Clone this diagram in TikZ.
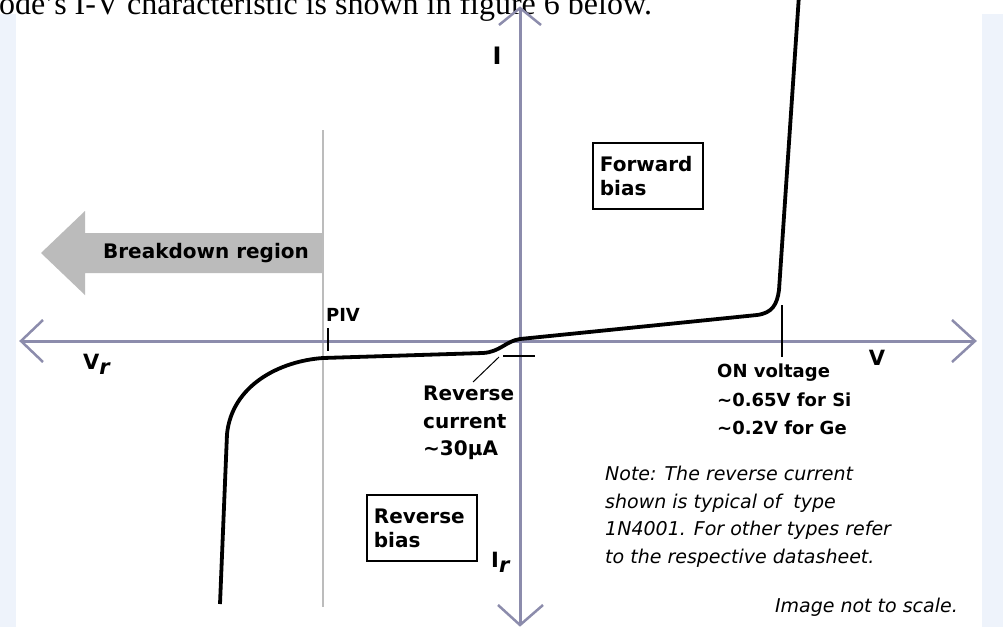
\documentclass[tikz,border=0pt]{standalone}
\usepackage{fontspec}
\setmainfont{Liberation Serif}
\setsansfont{DejaVu Sans}
\usetikzlibrary{calc}
\definecolor{axcol}{RGB}{140,140,172}
\definecolor{pivcol}{RGB}{188,188,188}
\definecolor{arrfill}{RGB}{187,187,187}
\definecolor{stripcol}{RGB}{238,243,251}
\begin{document}
\begin{tikzpicture}[x=1pt,y=-1pt,
  axis/.style={draw=axcol, line width=3pt},
  axarm/.style={draw=axcol, line width=2.5pt},
  pivline/.style={draw=pivcol, line width=2.5pt},
  curve/.style={draw=black, line width=3.8pt, line join=round},
  tick/.style={draw=black, line width=1.6pt},
  leader/.style={draw=black, line width=1pt},
  lbl/.style={font=\sffamily\bfseries\fontsize{20}{27.5}\selectfont, inner sep=0pt, align=left},
  onlbl/.style={font=\sffamily\bfseries\fontsize{18}{28.5}\selectfont, inner sep=0pt, align=left},
  axlbl/.style={font=\sffamily\bfseries\fontsize{21}{24}\selectfont, inner sep=0pt},
  notelbl/.style={font=\sffamily\itshape\fontsize{19}{27.6}\selectfont, inner sep=0pt, align=left},
  biasbox/.style={draw=black, line width=1.8pt, font=\sffamily\bfseries\fontsize{20}{24}\selectfont,
    align=left, minimum width=110pt, minimum height=66pt, inner xsep=7pt, text width=96pt}
]
\useasboundingbox (0,0) rectangle (1003,627);
\fill[white] (0,0) rectangle (1003,627);
\fill[stripcol] (0,14) rectangle (16,627);
\fill[stripcol] (982,14) rectangle (1003,627);

% document text above the figure
\node[anchor=base west, inner sep=0pt, font=\fontsize{32}{32}\selectfont] (title) at (-1,14)
  {ode's I-V characteristic is shown in figure 6 below.};

% coordinates of axes
\coordinate (xl) at (21,341);
\coordinate (xr) at (975,341);
\coordinate (yt) at (520,8);
\coordinate (yb) at (520,625);

% breakdown arrow
\fill[arrfill] (323,233) -- (85,233) -- (85,211) -- (41,253) -- (85,295) -- (85,273) -- (323,273) -- cycle;
\node[lbl] (bd) at (206,253) {Breakdown region};

% PIV line
\coordinate (pivtop) at (323,130);
\coordinate (pivbot) at (323,607);
\draw[pivline] (pivtop) -- (pivbot);

% axes
\draw[axis] (xl) -- (xr);
\draw[axis] (yt) -- (yb);
\draw[axarm] ($(xr)+(-23,-21)$) -- (xr) -- ($(xr)+(-23,21)$);
\draw[axarm] ($(xl)+(22,-21)$) -- (xl) -- ($(xl)+(22,21)$);
\draw[axarm] ($(yt)+(-21,17)$) -- (yt) -- ($(yt)+(21,17)$);
\draw[axarm] ($(yb)+(-22,-20)$) -- (yb) -- ($(yb)+(23,-20)$);

% characteristic curve
\draw[curve] (220,604) -- (227,434) .. controls (232,385) and (280,361) .. (323,358)
  -- (483,353) .. controls (500,352) and (506,341) .. (520,339)
  -- (757,315) .. controls (772,313) and (777,305) .. (779,290) -- (799,-5);

% ticks
\coordinate (pivt1) at (328,328);
\coordinate (pivt2) at (328,351);
\draw[tick] (pivt1) -- (pivt2);
\coordinate (rct1) at (503,356);
\coordinate (rct2) at (535,356);
\draw[tick] (rct1) -- (rct2);
\coordinate (ont1) at (782,305);
\coordinate (ont2) at (782,357);
\draw[tick] (ont1) -- (ont2);

% axis labels
\node[axlbl, font=\sffamily\bfseries\fontsize{24}{26}\selectfont] (I) at (497,56) {I};
\node[axlbl] (V) at (877,358) {V};
\node[axlbl, anchor=west] (Vr) at (83,364) {V\raisebox{-5pt}{\itshape r}};
\node[axlbl, anchor=west] (Ir) at (491,562) {I\raisebox{-5pt}{\itshape r}};
\node[lbl, font=\sffamily\bfseries\fontsize{18}{20}\selectfont] (piv) at (343,315) {PIV};

% bias boxes
\node[biasbox, anchor=north west] (fwd) at (592,142) {Forward\\bias};
\node[biasbox, anchor=north west] (rev) at (366,494) {Reverse\\bias};

% reverse current label
\node[lbl, anchor=north west] (rc) at (423,386) {Reverse\\current\\\textasciitilde30µA};
\coordinate (rcpt) at (499,357);
\coordinate (rcfoot) at (473,382);
\draw[leader] (rcfoot) -- (rcpt);

% ON voltage label
\node[onlbl, anchor=north west] (on) at (717,364) {ON voltage\\\textasciitilde0.65V for Si\\\textasciitilde0.2V for Ge};

% note
\node[notelbl, anchor=north west] (note) at (605,466) {Note: The reverse current\\shown is typical of\ \ type\\1N4001. For other types refer\\to the respective datasheet.};
\node[notelbl, anchor=base east] (scale) at (958,612) {Image not to scale.};
\end{tikzpicture}
\end{document}
